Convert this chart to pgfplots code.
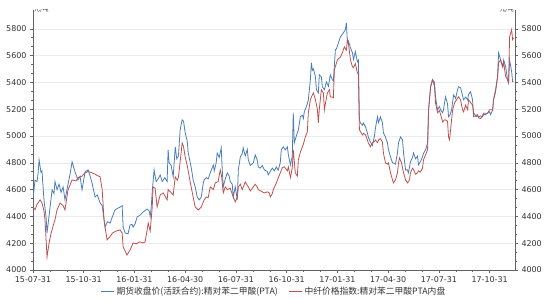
\documentclass[border=0pt]{standalone}
\usepackage{fontspec}
\setmainfont{DejaVu Sans}
\newfontfamily\cjk{Noto Sans CJK SC}
\usepackage{pgfplots}
\pgfplotsset{compat=1.18}
\definecolor{sblue}{RGB}{74,126,187}
\definecolor{sred}{RGB}{192,80,77}
\definecolor{axgray}{RGB}{100,100,100}
\pgfplotsset{
  common/.style={
    at={(33bp,30bp)}, anchor=south west,
    scale only axis, width=482bp, height=260bp,
    xmin=0, xmax=28.5, ymin=4000, ymax=5940,
    ytick={4000,4200,...,5800},
    minor y tick num=2,
    /pgf/number format/assume math mode=true,
    /pgf/number format/1000 sep={},
    ticklabel style={font=\fontsize{8}{9}\selectfont, text=black!80},
    axis line style={axgray, line width=0.6pt},
    tick style={axgray, line width=0.5pt},
    tick align=outside,
    major tick length=3bp, minor tick length=2bp,
  }
}
\begin{document}
\begin{tikzpicture}
\useasboundingbox (0,0) rectangle (550bp,300bp);
\begin{axis}[common,
  axis y line*=left, axis x line*=bottom,
  xtick={0,3,...,27},
  xticklabels={15-07-31,15-10-31,16-01-31,16-04-30,16-07-31,16-10-31,17-01-31,17-04-30,17-07-31,17-10-31},
  minor x tick num=2,
  ymajorgrids, major grid style={black!8, line width=0.4pt},
  legend style={font=\cjk\fontsize{8.8}{9}\selectfont, draw=none, fill=none,
    at={(0.5,-0.081)}, anchor=center, legend columns=2,
    /tikz/every even column/.append style={column sep=9bp}, text=black!80},
  legend image code/.code={\draw[#1] (0bp,0bp) -- (13bp,0bp);},
]
\addplot[sblue, line width=0.8pt] coordinates {
(0,4530)(0.12,4670)(0.24,4660)(0.30,4720)(0.36,4822)(0.47,4730)(0.53,4740)(0.65,4520)(0.77,4400)(0.83,4276)(0.89,4340)(1.01,4470)(1.13,4598)(1.24,4570)(1.30,4660)(1.42,4600)(1.54,4640)(1.66,4580)(1.78,4620)(1.89,4523)(2.07,4640)(2.20,4720)(2.31,4807)(2.49,4730)(2.66,4672)(2.78,4700)(2.90,4598)(3.08,4732)(3.26,4747)(3.38,4700)(3.49,4650)(3.67,4545)(3.80,4560)(3.97,4500)(4.09,4480)(4.26,4321)(4.40,4360)(4.56,4350)(4.70,4400)(4.85,4448)(5.00,4460)(5.15,4470)(5.27,4480)(5.33,4321)(5.45,4276)(5.62,4270)(5.74,4336)(5.86,4340)(5.92,4320)(6.04,4346)(6.16,4396)(6.33,4410)(6.51,4433)(6.75,4455)(6.87,4440)(6.93,4400)(6.99,4470)(7.05,4583)(7.16,4747)(7.28,4660)(7.40,4680)(7.52,4710)(7.64,4660)(7.80,4690)(7.93,4660)(7.99,4896)(8.05,4800)(8.17,4780)(8.29,4695)(8.41,4919)(8.50,4830)(8.60,4850)(8.70,5046)(8.82,5120)(8.90,5110)(9.00,5023)(9.12,4960)(9.18,4873)(9.35,4769)(9.47,4672)(9.59,4620)(9.71,4545)(9.83,4523)(9.95,4545)(10.07,4650)(10.12,4672)
(10.25,4690)(10.36,4680)(10.48,4725)(10.66,4784)(10.72,4740)(10.83,4799)(10.89,4873)(11.01,4840)(11.13,4911)(11.19,4747)(11.25,4620)(11.37,4680)(11.49,4725)(11.60,4700)(11.66,4660)(11.78,4640)(11.84,4545)(11.96,4620)(12.08,4523)(12.14,4747)(12.26,4844)(12.37,4870)(12.43,4911)(12.55,4850)(12.67,4900)(12.73,4822)(12.85,4780)(13.03,4800)(13.14,4859)(13.26,4820)(13.32,4769)(13.44,4760)(13.56,4780)(13.68,4747)(13.85,4735)(13.91,4710)(14.03,4735)(14.15,4760)(14.27,4740)(14.39,4769)(14.50,4745)(14.62,4800)(14.68,4896)(14.80,4919)(14.92,4896)(15.04,4919)(15.10,4859)(15.22,4784)(15.33,4850)(15.39,5173)(15.45,4948)(15.57,5000)(15.69,5046)(15.81,5143)(15.93,5155)(15.99,5130)(16.04,5180)(16.16,5218)(16.22,5240)(16.28,5270)(16.40,5419)(16.46,5546)(16.52,5490)(16.58,5500)(16.70,5442)(16.76,5345)(16.87,5320)(16.93,5456)(17.05,5440)(17.11,5367)(17.23,5345)(17.35,5404)(17.47,5370)(17.53,5420)(17.58,5456)(17.70,5420)(17.76,5410)(17.88,5643)(17.94,5650)(18.06,5696)(18.18,5740)(18.24,5750)(18.35,5770)(18.47,5793)(18.53,5844)(18.59,5696)(18.65,5710)(18.77,5658)(18.89,5620)(18.95,5570)(19.06,5630)(19.18,5553)(19.24,5565)(19.30,5120)(19.36,5098)(19.48,5080)(19.54,5098)(19.66,5068)(19.77,5023)(19.83,4990)(19.95,4956)(20.07,4930)(20.19,5000)
(20.25,5061)(20.37,5143)(20.43,5100)(20.54,5143)(20.66,5100)(20.72,5023)(20.84,4993)(20.96,4948)(21.02,4896)(21.14,4844)(21.26,4799)(21.31,4799)(21.43,4790)(21.55,4873)(21.61,4948)(21.73,4993)(21.85,4970)(21.91,4873)(22.03,4747)(22.14,4747)(22.20,4725)(22.32,4807)(22.44,4840)(22.50,4873)(22.62,4830)(22.74,4850)(22.79,4784)(22.91,4810)(23.03,4844)(23.09,4870)(23.21,4896)(23.33,4948)(23.39,5195)(23.51,5367)(23.62,5419)(23.74,5400)(23.80,5292)(23.92,5195)(24.03,5220)(24.10,5195)(24.22,5173)(24.27,5195)(24.39,5292)(24.51,5240)(24.57,5143)(24.63,5150)(24.69,5170)
(24.75,5195)(24.87,5307)(24.99,5280)(25.10,5345)(25.16,5367)(25.28,5360)(25.40,5300)(25.46,5270)(25.58,5290)(25.70,5270)(25.75,5310)(25.87,5330)(25.99,5270)(26.05,5143)(26.17,5143)(26.29,5150)(26.35,5143)(26.47,5150)(26.58,5143)(26.64,5160)(26.76,5160)(26.88,5170)(27.00,5180)(27.06,5160)(27.18,5195)(27.23,5270)(27.35,5345)(27.47,5442)(27.53,5620)(27.65,5568)(27.77,5516)(27.83,5568)(27.95,5516)(28.06,5419)(28.12,5397)(28.18,5568)(28.30,5480)(28.36,5404)(28.42,5404)
};
\addlegendentry{期货收盘价(活跃合约):精对苯二甲酸(PTA)}
\addplot[sred, line width=0.8pt] coordinates {
(0,4470)(0.12,4450)(0.24,4490)(0.42,4523)(0.53,4500)(0.65,4440)(0.71,4374)(0.83,4097)(0.95,4200)(1.07,4276)(1.13,4300)(1.19,4330)(1.30,4374)(1.42,4448)(1.60,4500)(1.78,4480)(1.89,4448)(2.07,4598)(2.31,4672)(2.55,4665)(2.66,4690)(2.90,4700)(3.08,4725)(3.26,4735)(3.49,4725)(3.67,4715)(3.80,4705)(3.97,4695)(4.09,4600)(4.20,4374)(4.38,4224)(4.56,4250)(4.70,4276)(4.90,4290)(5.15,4299)(5.27,4276)(5.33,4172)(5.56,4112)(5.74,4150)(5.92,4202)(6.10,4195)(6.33,4210)(6.51,4202)(6.63,4210)(6.75,4299)(6.81,4351)(6.93,4290)(7.05,4470)(7.10,4620)(7.22,4610)(7.34,4470)(7.52,4560)(7.70,4575)(7.93,4523)(7.99,4600)(8.15,4580)(8.29,4560)(8.41,4695)(8.53,4670)(8.60,4695)(8.70,4807)(8.82,4948)(8.90,4920)(9.00,4844)(9.12,4780)(9.24,4695)(9.35,4620)(9.47,4545)(9.59,4470)(9.77,4448)(9.95,4470)(10.12,4523)
(10.25,4545)(10.36,4540)(10.48,4620)(10.66,4600)(10.78,4650)(10.95,4660)(11.07,4747)(11.15,4700)(11.25,4575)(11.37,4620)(11.49,4600)(11.66,4610)(11.84,4545)(11.96,4508)(12.08,4545)(12.14,4620)(12.26,4640)(12.37,4600)(12.55,4657)(12.73,4620)(12.85,4590)(13.03,4620)(13.14,4640)(13.26,4620)(13.32,4600)(13.56,4583)(13.68,4575)(13.85,4583)(13.97,4575)(14.03,4545)(14.15,4570)(14.21,4600)(14.39,4650)(14.62,4725)(14.74,4762)(14.86,4770)(15.04,4740)(15.10,4769)(15.22,4690)(15.33,4760)(15.39,4896)(15.51,4725)(15.63,4700)(15.69,4822)(15.81,4880)(15.93,4919)(15.99,4940)(16.10,4993)(16.22,5030)(16.28,5173)(16.40,5270)(16.46,5290)(16.58,5322)(16.70,5270)(16.82,5195)(16.87,5098)(16.93,5200)(17.05,5345)(17.17,5320)(17.23,5195)(17.30,5250)(17.41,5322)(17.53,5345)(17.58,5292)(17.70,5290)(17.76,5285)(17.82,5494)(18.00,5568)(18.18,5590)(18.29,5620)(18.41,5665)(18.53,5640)(18.59,5718)(18.65,5690)(18.77,5568)(18.89,5516)(18.95,5510)(19.06,5540)(19.18,5471)(19.24,5460)(19.30,5046)(19.48,5008)(19.54,5020)(19.66,5008)(19.77,4971)(19.83,4948)(19.95,4919)(20.07,4950)(20.19,4960)
(20.25,4970)(20.37,4950)(20.43,4970)(20.54,4980)(20.66,4955)(20.72,4873)(20.84,4799)(20.96,4790)(21.02,4799)(21.14,4725)(21.26,4672)(21.31,4650)(21.43,4672)(21.55,4725)(21.61,4799)(21.67,4836)(21.79,4800)(21.91,4725)(22.03,4672)(22.14,4650)(22.26,4672)(22.32,4725)(22.44,4760)(22.50,4750)(22.62,4715)(22.74,4725)(22.79,4740)(22.91,4730)(23.03,4760)(23.09,4822)(23.21,4859)(23.33,4896)(23.39,5195)(23.51,5367)(23.62,5419)(23.74,5370)(23.80,5247)(23.92,5173)(24.03,5190)(24.10,5160)(24.22,5105)(24.33,5120)(24.39,5120)(24.51,5110)(24.57,4993)(24.63,4971)(24.75,5120)(24.81,5195)(24.93,5247)(25.04,5270)(25.16,5292)(25.28,5270)(25.34,5230)(25.40,5195)(25.46,5180)(25.58,5230)(25.70,5195)(25.75,5270)(25.87,5250)(25.99,5230)(26.05,5173)(26.17,5150)(26.29,5160)(26.35,5135)(26.47,5130)(26.58,5150)(26.64,5170)(26.88,5170)(26.99,5195)(27.06,5195)(27.18,5195)(27.23,5270)(27.35,5330)(27.47,5442)(27.53,5546)(27.65,5568)(27.77,5516)(27.83,5546)(27.95,5442)(28.06,5420)(28.12,5397)(28.18,5740)(28.30,5793)(28.36,5718)(28.42,5733)
};
\addlegendentry{中纤价格指数:精对苯二甲酸PTA内盘}
\node[anchor=west, font=\cjk\fontsize{6}{7}\selectfont, text=black!80, inner sep=1bp] at (rel axis cs:0,1) {元/吨};
\node[anchor=east, font=\cjk\fontsize{6}{7}\selectfont, text=black!80, inner sep=1bp] at (rel axis cs:1,1) {元/吨};
\end{axis}
\begin{axis}[common,
  axis y line*=right, axis x line=none,
]
\end{axis}
\end{tikzpicture}
\end{document}
